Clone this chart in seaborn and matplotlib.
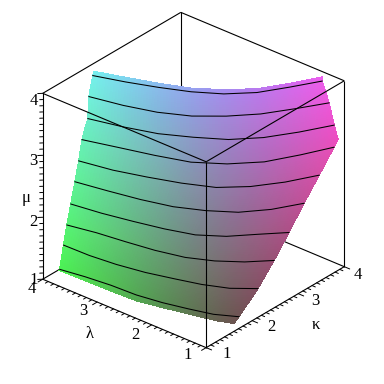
import numpy as np
import matplotlib
matplotlib.use("Agg")
import matplotlib.pyplot as plt
import seaborn as sns
from mpl_toolkits.mplot3d import proj3d

###### values #####
# rows run up the surface: bottom edge, contours, a row at the right hand bulge, top edge
mu_levels = [1.0, 1.08, 1.40, 1.71, 2.03, 2.35, 2.66, 2.98, 3.10, 3.30, 3.61, 3.93, 4.0]
contour_levels = [1.08, 1.40, 1.71, 2.03, 2.35, 2.66, 2.98, 3.30, 3.61, 3.93]
lam_rows = [
    [3.99, 3.52, 3.05, 2.59, 2.19, 1.79, 1.39, 1.14],
    [3.91, 3.50, 3.07, 2.62, 2.20, 1.81, 1.44, 1.12],
    [3.95, 3.48, 3.03, 2.57, 2.13, 1.75, 1.38, 1.07],
    [3.93, 3.47, 2.99, 2.52, 2.07, 1.69, 1.35, 1.06],
    [3.91, 3.41, 2.92, 2.45, 2.01, 1.65, 1.35, 1.05],
    [3.91, 3.39, 2.88, 2.40, 1.98, 1.60, 1.30, 1.06],
    [3.90, 3.36, 2.87, 2.39, 1.94, 1.59, 1.30, 1.06],
    [3.89, 3.36, 2.82, 2.31, 1.89, 1.53, 1.27, 1.05],
    [3.88, 3.35, 2.82, 2.33, 1.91, 1.56, 1.29, 1.02],
    [3.85, 3.32, 2.82, 2.38, 1.96, 1.62, 1.34, 1.09],
    [3.89, 3.36, 2.87, 2.43, 2.06, 1.73, 1.46, 1.20],
    [3.87, 3.40, 2.95, 2.52, 2.13, 1.80, 1.55, 1.31],
    [3.86, 3.40, 2.94, 2.50, 2.13, 1.79, 1.54, 1.31],
]
kappa_rows = [
    [1.34, 1.35, 1.36, 1.38, 1.47, 1.57, 1.67, 1.77],
    [1.26, 1.33, 1.38, 1.40, 1.47, 1.57, 1.68, 1.86],
    [1.39, 1.40, 1.45, 1.54, 1.67, 1.79, 1.96, 2.21],
    [1.44, 1.54, 1.61, 1.69, 1.81, 2.00, 2.25, 2.55],
    [1.50, 1.58, 1.69, 1.81, 1.96, 2.21, 2.54, 2.86],
    [1.59, 1.69, 1.80, 1.94, 2.15, 2.41, 2.77, 3.20],
    [1.66, 1.77, 1.93, 2.11, 2.33, 2.66, 3.07, 3.53],
    [1.72, 1.88, 2.04, 2.22, 2.51, 2.89, 3.37, 3.84],
    [1.75, 1.90, 2.07, 2.27, 2.55, 2.92, 3.39, 3.89],
    [1.80, 1.94, 2.11, 2.35, 2.62, 2.98, 3.42, 3.89],
    [1.87, 1.99, 2.15, 2.38, 2.69, 3.05, 3.47, 3.91],
    [1.93, 2.09, 2.27, 2.47, 2.72, 3.05, 3.46, 3.89],
    [1.94, 2.10, 2.27, 2.46, 2.72, 3.04, 3.45, 3.89],
]
tick_values = [1, 2, 3, 4]
tick_labels = ["1", "2", "3", "4"]

LOW, HIGH = 1, 4
SERIF = "Liberation Serif"


def fine_mesh(grid, factor=12):
    """Finer facets between the read values, only so the shading looks smooth."""
    grid = np.asarray(grid, dtype=float)
    rows = np.arange(grid.shape[0])
    cols = np.arange(grid.shape[1])
    fine_rows = np.linspace(0, rows[-1], rows[-1] * factor + 1)
    fine_cols = np.linspace(0, cols[-1], cols[-1] * factor + 1)
    across = np.array([np.interp(fine_cols, cols, r) for r in grid])
    return np.array([np.interp(fine_rows, rows, c) for c in across.T]).T


def xyz_colors(kappa, lam, mu):
    """Maple style xyz shading: red with kappa, green with lambda, blue with mu."""
    red = (59 + (kappa - 1) * 62) / 255
    green = (75 + (lam - 1) * 57) / 255
    blue = (80 + (mu - 1) * 53) / 255
    return np.clip(np.dstack([red, green, blue]), 0, 1)


sns.set_theme(style="white")
plt.rcParams["font.family"] = [SERIF, "DejaVu Serif"]

fig = plt.figure(figsize=(3.84, 3.84), dpi=100, facecolor="white")
ax = fig.add_axes([-3.7 / 384, 6.8 / 384, 1, 1], projection="3d", proj_type="ortho")
ax.computed_zorder = False
ax.view_init(elev=29.7, azim=-139.8)
ax.set_box_aspect((1, 1, 1), zoom=0.937)
ax.set_axis_off()
ax.patch.set_visible(False)

###### surface #####
kappa_grid = np.array(kappa_rows)
lam_grid = np.array(lam_rows)
mu_grid = np.repeat(np.array(mu_levels)[:, None], kappa_grid.shape[1], axis=1)

k_fine, l_fine, m_fine = fine_mesh(kappa_grid), fine_mesh(lam_grid), fine_mesh(mu_grid)
ax.plot_surface(k_fine, l_fine, m_fine, facecolors=xyz_colors(k_fine, l_fine, m_fine),
                rstride=1, cstride=1, shade=False, linewidth=0, antialiased=False, zorder=2)

# the contours are the rows at contour_levels
for k_row, l_row, m in zip(kappa_rows, lam_rows, mu_levels):
    if m in contour_levels:
        ax.plot(k_row, l_row, [m] * len(k_row), color="black", lw=0.75, zorder=3)

###### box, edges as kappa, lambda, mu #####
frame_kw = dict(color="black", lw=0.8, solid_capstyle="butt")
back_edges = [
    ((LOW, HIGH, LOW), (HIGH, HIGH, LOW)), ((HIGH, LOW, LOW), (HIGH, HIGH, LOW)),
    ((HIGH, HIGH, LOW), (HIGH, HIGH, HIGH)), ((LOW, HIGH, HIGH), (HIGH, HIGH, HIGH)),
    ((HIGH, LOW, HIGH), (HIGH, HIGH, HIGH)), ((LOW, HIGH, LOW), (LOW, HIGH, HIGH)),
    ((HIGH, LOW, LOW), (HIGH, LOW, HIGH)), ((LOW, LOW, LOW), (LOW, HIGH, LOW)),
    ((LOW, LOW, LOW), (HIGH, LOW, LOW)),
]
front_edges = [
    ((LOW, LOW, LOW), (LOW, LOW, HIGH)), ((LOW, LOW, HIGH), (LOW, HIGH, HIGH)),
    ((LOW, LOW, HIGH), (HIGH, LOW, HIGH)),
]
for start, end in back_edges:
    ax.plot(*zip(start, end), zorder=1, **frame_kw)
for start, end in front_edges:
    ax.plot(*zip(start, end), zorder=4, **frame_kw)

###### ticks #####
tick_kw = dict(color="black", lw=0.7, zorder=5, clip_on=False)
for t in np.round(np.arange(LOW, HIGH + 0.01, 0.1), 1):
    major = float(t).is_integer()
    ax.plot([LOW, LOW - (0.1 if major else 0.06)], [t, t], [LOW, LOW], **tick_kw)
    ax.plot([t, t], [LOW, LOW - (0.1 if major else 0.06)], [LOW, LOW], **tick_kw)
    size = 0.05 if major else 0.03
    ax.plot([LOW, LOW - size], [HIGH, HIGH + size], [t, t], **tick_kw)

ax.set_xlim(LOW, HIGH, view_margin=0)
ax.set_ylim(LOW, HIGH, view_margin=0)
ax.set_zlim(LOW, HIGH, view_margin=0)


def label_at(x, y, z, text, dx, dy):
    """Text at a data point, moved by dx, dy pixels on the screen."""
    px, py, _ = proj3d.proj_transform(x, y, z, ax.get_proj())
    ax.annotate(text, xy=(px, py), xycoords="data", xytext=(dx, dy), textcoords="offset pixels",
                ha="center", va="center", fontsize=12, color="black", annotation_clip=False)


lam_shift = [(-18, -7), (-16, -10), (-14, -9), (-11, -10)]
kappa_shift = [(21, -6), (19, -6), (17, -7), (14, -8)]
mu_shift = [(-9, -1), (-9, -5), (-9, -6), (-9, -8)]
for i, (v, lab) in enumerate(zip(tick_values, tick_labels)):
    label_at(LOW, v, LOW, lab, *lam_shift[i])
    label_at(v, LOW, LOW, lab, *kappa_shift[i])
    label_at(LOW, HIGH, v, lab, *mu_shift[i])

label_at(LOW, 2.5, LOW, "\u03bb", -34.5, -20.5)
label_at(2.5, LOW, LOW, "\u03ba", 41, -17.5)
label_at(LOW, HIGH, 2.5, "\u03bc", -17, -12)

fig.savefig("out.png", dpi=100)
